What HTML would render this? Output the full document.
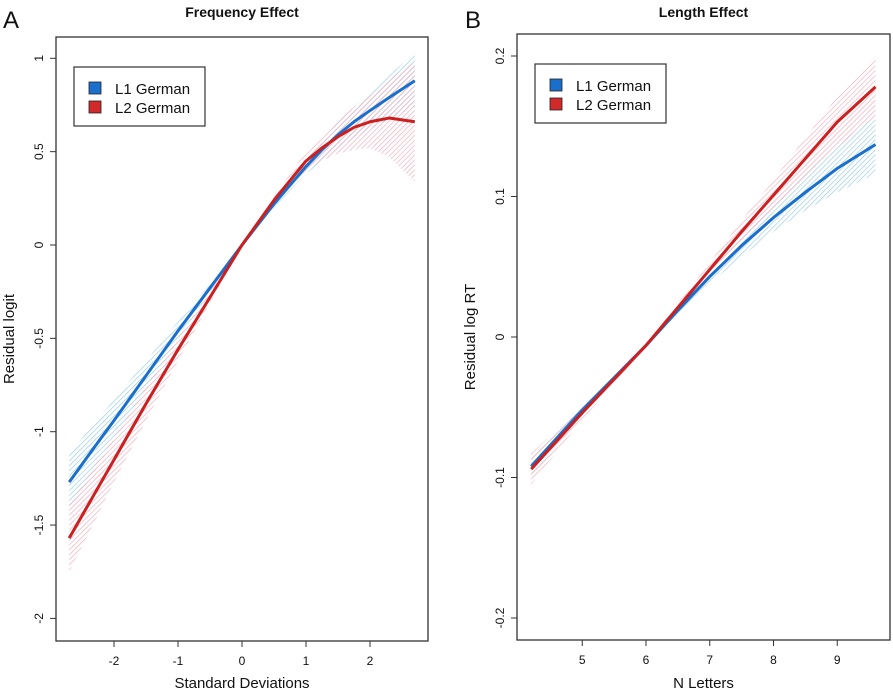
<!DOCTYPE html>
<html><head><meta charset="utf-8"><style>
body{margin:0;background:#fff;}
svg text{font-family:"Liberation Sans",Arial,sans-serif;fill:#111;}
</style></head><body>
<svg id="chart" width="893" height="694" xmlns="http://www.w3.org/2000/svg">
<defs>
<pattern id="hb" patternUnits="userSpaceOnUse" width="3.5" height="3.5" patternTransform="rotate(-45)"><line x1="0" y1="0" x2="3.5" y2="0" stroke="#94cbe4" stroke-width="1.3"/></pattern>
<pattern id="hr" patternUnits="userSpaceOnUse" width="3.5" height="3.5" patternTransform="rotate(-45)"><line x1="0" y1="0" x2="3.5" y2="0" stroke="#f4a9b9" stroke-width="1.3"/></pattern>
</defs>
<g id="pa"></g>
<g id="pb"></g>
</svg>
<script>
// Panel A data
const freqX = [-2.7,-2.3,-2,-1.5,-1,-0.5,0,0.5,1,1.25,1.5,1.75,2,2.3,2.7];
const freqL1 = [-1.27,-1.08,-0.94,-0.70,-0.46,-0.23,0,0.22,0.42,0.51,0.59,0.66,0.72,0.79,0.88];
const freqL1Lo = [-1.42,-1.21,-1.05,-0.78,-0.51,-0.25,0,0.20,0.38,0.45,0.52,0.57,0.62,0.67,0.74];
const freqL1Hi = [-1.12,-0.95,-0.83,-0.62,-0.41,-0.21,0,0.24,0.46,0.56,0.66,0.74,0.82,0.91,1.03];
const freqL2 = [-1.57,-1.33,-1.15,-0.85,-0.56,-0.28,0,0.24,0.45,0.52,0.58,0.63,0.66,0.68,0.66];
const freqL2Lo = [-1.75,-1.48,-1.27,-0.94,-0.62,-0.31,0,0.22,0.40,0.45,0.49,0.51,0.52,0.47,0.34];
const freqL2Hi = [-1.39,-1.18,-1.03,-0.76,-0.50,-0.25,0,0.26,0.50,0.59,0.67,0.74,0.80,0.89,0.98];
const freqXTicks = [-2,-1,0,1,2];
const freqYTicks = [1,0.5,0,-0.5,-1,-1.5,-2];
const freqYLabels = ["1","0.5","0","-0.5","-1","-1.5","-2"];
// Panel B data
const lenX = [4.2,5,6,6.5,7,7.5,8,8.5,9,9.6];
const lenL1 = [-0.092,-0.052,-0.006,0.019,0.043,0.065,0.085,0.103,0.120,0.137];
const lenL1Lo = [-0.100,-0.056,-0.007,0.016,0.038,0.057,0.075,0.090,0.103,0.116];
const lenL1Hi = [-0.084,-0.048,-0.005,0.022,0.048,0.073,0.095,0.116,0.137,0.157];
const lenL2 = [-0.094,-0.054,-0.006,0.021,0.048,0.075,0.101,0.127,0.153,0.178];
const lenL2Lo = [-0.105,-0.059,-0.007,0.018,0.043,0.067,0.090,0.113,0.135,0.157];
const lenL2Hi = [-0.083,-0.049,-0.005,0.024,0.053,0.083,0.112,0.142,0.171,0.200];
const lenXTicks = [5,6,7,8,9];
const lenYTicks = [0.2,0.1,0,-0.1,-0.2];
const lenYLabels = ["0.2","0.1","0","-0.1","-0.2"];

const NS="http://www.w3.org/2000/svg";
function mk(parent,tag,attrs,text){const e=document.createElementNS(NS,tag);for(const k in attrs)e.setAttribute(k,attrs[k]);if(text!==undefined)e.textContent=text;parent.appendChild(e);return e;}

function panel(g,cfg){
  const sx=v=>cfg.x0px+(v-cfg.x0)*cfg.xs;
  const sy=v=>cfg.y0px-(v-cfg.y0)*cfg.ys;
  const t=mk(g,'text',{x:cfg.letterX,y:28,'font-size':24});t.textContent=cfg.letter;
  
  
  const ti=mk(g,'text',{x:(cfg.bx1+cfg.bx2)/2,y:17,'font-size':14,'font-weight':'bold','text-anchor':'middle'},cfg.title);
  
  
  function band(xs,lo,hi,fill,name){
    let d='M'+xs.map((x,i)=>sx(x)+','+sy(hi[i])).join('L');
    for(let i=xs.length-1;i>=0;i--)d+='L'+sx(xs[i])+','+sy(lo[i]);
    const p=mk(g,'path',{d:d+'Z',fill:fill});
    
    
  }
  function line(xs,ys,col,name){
    const p=mk(g,'polyline',{points:xs.map((x,i)=>sx(x)+','+sy(ys[i])).join(' '),fill:'none',stroke:col,'stroke-width':3,'stroke-linejoin':'round'});
    
    
  }
  band(cfg.xd,cfg.l1lo,cfg.l1hi,'url(#hb)','l1-confidence-band');
  band(cfg.xd,cfg.l2lo,cfg.l2hi,'url(#hr)','l2-confidence-band');
  line(cfg.xd,cfg.l1,'#1a6fcc','l1-german-line');
  line(cfg.xd,cfg.l2,'#cc1f1f','l2-german-line');
  const box=mk(g,'rect',{x:cfg.bx1,y:cfg.by1,width:cfg.bx2-cfg.bx1,height:cfg.by2-cfg.by1,fill:'none',stroke:'#333','stroke-width':1.3});
  
  
  cfg.xt.forEach(v=>{
    mk(g,'line',{x1:sx(v),x2:sx(v),y1:cfg.by2,y2:cfg.by2+6,stroke:'#333'});
    const tl=mk(g,'text',{x:sx(v),y:cfg.by2+24,'font-size':12,'text-anchor':'middle'},String(v));
    
    
  });
  cfg.yt.forEach((v,i)=>{
    mk(g,'line',{x1:cfg.bx1-6,x2:cfg.bx1,y1:sy(v),y2:sy(v),stroke:'#333'});
    const tl=mk(g,'text',{x:0,y:0,'font-size':12,'text-anchor':'middle',transform:`translate(${cfg.bx1-13},${sy(v)}) rotate(-90)`},cfg.yl[i]);
    
    
  });
  const xl=mk(g,'text',{x:(cfg.bx1+cfg.bx2)/2,y:688,'font-size':15,'text-anchor':'middle'},cfg.xlab);
  
  
  const yl=mk(g,'text',{x:0,y:0,'font-size':15,'text-anchor':'middle',transform:`translate(${cfg.ylx},${(cfg.by1+cfg.by2)/2}) rotate(-90)`},cfg.ylab);
  
  
  const lg=mk(g,'g',{});
  
  
  mk(lg,'rect',{x:cfg.lgx,y:cfg.lgy,width:131,height:59,fill:'#fff',stroke:'#333','stroke-width':1.2});
  [['L1 German','#1a6fcc'],['L2 German','#d22a2a']].forEach((e,i)=>{
    const it=mk(lg,'g',{});
    
    
    mk(it,'rect',{x:cfg.lgx+15,y:cfg.lgy+15+i*19,width:12,height:12,fill:e[1],stroke:'#222','stroke-width':0.8});
    mk(it,'text',{x:cfg.lgx+41,y:cfg.lgy+27+i*19,'font-size':15},e[0]);
  });
}
panel(document.getElementById('pa'),{letter:'A',letterX:3,title:'Frequency Effect',bx1:56,bx2:428,by1:37,by2:641,
  x0:0,x0px:242,xs:64,y0:0,y0px:245,ys:186.7,xd:freqX,l1:freqL1,l1lo:freqL1Lo,l1hi:freqL1Hi,l2:freqL2,l2lo:freqL2Lo,l2hi:freqL2Hi,
  xt:freqXTicks,yt:freqYTicks,yl:freqYLabels,xlab:'Standard Deviations',ylab:'Residual logit',ylx:14,lgx:74,lgy:67});
panel(document.getElementById('pb'),{letter:'B',letterX:465,title:'Length Effect',bx1:517,bx2:890,by1:34,by2:640,
  x0:6,x0px:646,xs:63.75,y0:0,y0px:337,ys:1405,xd:lenX,l1:lenL1,l1lo:lenL1Lo,l1hi:lenL1Hi,l2:lenL2,l2lo:lenL2Lo,l2hi:lenL2Hi,
  xt:lenXTicks,yt:lenYTicks,yl:lenYLabels,xlab:'N Letters',ylab:'Residual log RT',ylx:475,lgx:535,lgy:64});
</script>
</body></html>
